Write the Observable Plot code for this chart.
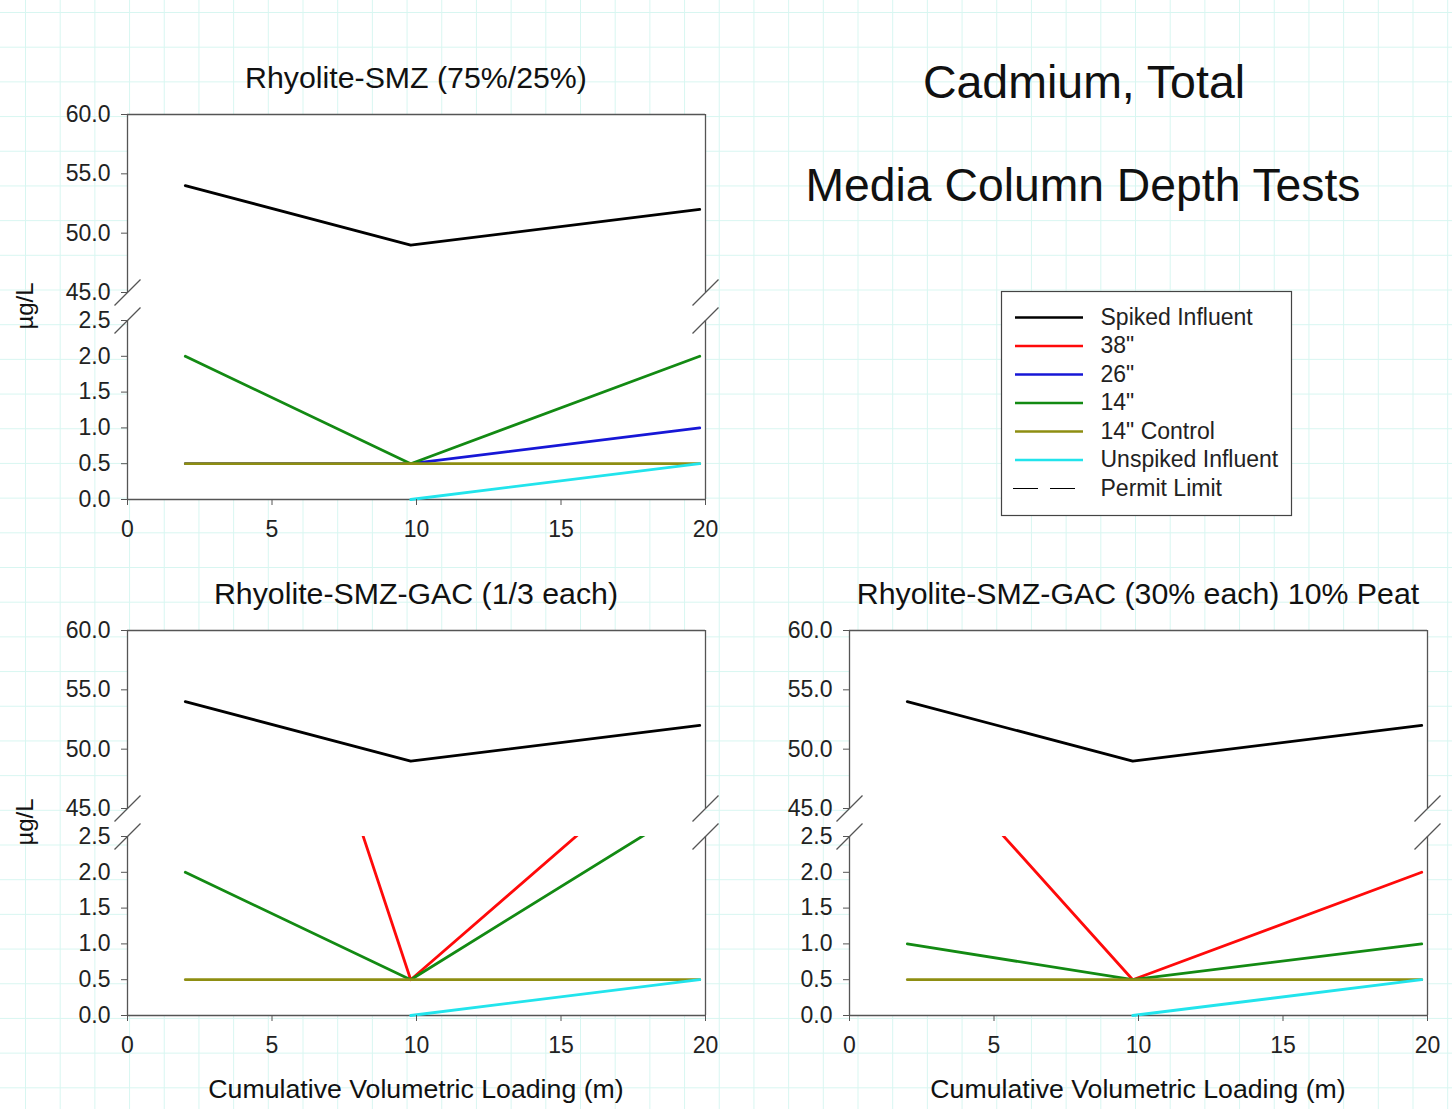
<!DOCTYPE html>
<html><head><meta charset="utf-8">
<script src="https://cdn.jsdelivr.net/npm/d3@7"></script>
<script src="https://cdn.jsdelivr.net/npm/@observablehq/plot@0.6"></script>
<style>
html,body{margin:0;padding:0;background:#fff;}
#chart{position:relative;width:1452px;height:1109px;overflow:hidden;font-family:"Liberation Sans",Arial,sans-serif;color:#111;
background-color:#fff;
background-image:linear-gradient(to right, #d8f6f1 1px, transparent 1px), linear-gradient(to bottom, #d8f6f1 1px, transparent 1px);
background-size:34.7px 34.7px;background-position:25px 12px;}
.abs{position:absolute;}
.t{position:absolute;white-space:nowrap;transform:translate(-50%,-50%);line-height:1.15;}
.rot{position:absolute;white-space:nowrap;transform:translate(-50%,-50%) rotate(-90deg);line-height:1.15;}
</style></head><body><div id="chart"></div>
<script>
// ---------- data ----------
const xLoad = [2, 9.8, 19.8];
const xTicks = [0, 5, 10, 15, 20];
const yTicksUpper = [45, 50, 55, 60];
const yTicksLower = [0, 0.5, 1.0, 1.5, 2.0, 2.5];
const seriesNames = ["Spiked Influent", "38\"", "26\"", "14\"", "14\" Control", "Unspiked Influent", "Permit Limit"];
const seriesColors = ["#000000", "#ff0a0a", "#1717d6", "#138a13", "#8e8e12", "#22e4ec", "#000000"];
const panelTitles = ["Rhyolite-SMZ (75%/25%)", "Rhyolite-SMZ-GAC (1/3 each)", "Rhyolite-SMZ-GAC (30% each) 10% Peat"];
const mainTitle = ["Cadmium, Total", "Media Column Depth Tests"];
const yLabel = "\u00b5g/L";
const xLabel = "Cumulative Volumetric Loading (m)";

// panel 1: Rhyolite-SMZ (75%/25%)
const p1Spiked = [54, 49, 52];
const p1In38 = null;
const p1In26 = [0.5, 0.5, 1.0];
const p1In14 = [2.0, 0.5, 2.0];
const p1Control = [0.5, 0.5, 0.5];
const p1Unspiked = [null, 0.0, 0.5];

// panel 2: Rhyolite-SMZ-GAC (1/3 each)
const p2Spiked = [54, 49, 52];
const p2In38 = [10.0, 0.5, 4.0];
const p2In26 = null;
const p2In14 = [2.0, 0.5, 3.0];
const p2Control = [0.5, 0.5, 0.5];
const p2Unspiked = [null, 0.0, 0.5];

// panel 3: Rhyolite-SMZ-GAC (30% each) 10% Peat
const p3Spiked = [54, 49, 52];
const p3In38 = [4.0, 0.5, 2.0];
const p3In26 = null;
const p3In14 = [1.0, 0.5, 1.0];
const p3Control = [0.5, 0.5, 0.5];
const p3Unspiked = [null, 0.0, 0.5];

// ---------- layout ----------
const AX = "#555";
const FONT = "'Liberation Sans', Arial, sans-serif";
const BREAK = 13;
const chart = document.getElementById("chart");

function seriesList(vals) {
  return vals.map((v, i) => ({name: seriesNames[i], color: seriesColors[i], values: v}));
}
const panels = [
  {title: panelTitles[0], L: 127, R: 705, T1: 114, B1: 292, T2: 320, B2: 499, ylab: true, xlab: false,
   series: seriesList([p1Spiked, p1In38, p1In26, p1In14, p1Control, p1Unspiked])},
  {title: panelTitles[1], L: 127, R: 705, T1: 630, B1: 808, T2: 836, B2: 1015, ylab: true, xlab: true,
   series: seriesList([p2Spiked, p2In38, p2In26, p2In14, p2Control, p2Unspiked])},
  {title: panelTitles[2], L: 849, R: 1427, T1: 630, B1: 808, T2: 836, B2: 1015, ylab: false, xlab: true,
   series: seriesList([p3Spiked, p3In38, p3In26, p3In14, p3Control, p3Unspiked])}
];

function addText(txt, x, y, size, cls = "t") {
  const d = document.createElement("div");
  d.className = cls;
  d.textContent = txt;
  d.style.left = x + "px";
  d.style.top = y + "px";
  d.style.fontSize = size + "px";
  chart.appendChild(d);
}

function segPlot(p, upper) {
  const dom = upper ? [45, 60] : [0, 2.5];
  const T = upper ? p.T1 : p.T2, B = upper ? p.B1 : p.B2;
  const mL = 80, mR = 24, mT = upper ? 12 : 18, mB = upper ? 18 : 50;
  const W = p.R - p.L, H = B - T;
  const sx = BREAK * 20 / W, sy = BREAK * (dom[1] - dom[0]) / H;
  const yEnd = upper ? dom[0] : dom[1];
  const brk = [0, 20].map(x => ({x1: x - sx, x2: x + sx, y1: yEnd - sy, y2: yEnd + sy}));
  const marks = [
    Plot.ruleX([0, 20], {stroke: AX, strokeWidth: 1.3}),
    Plot.ruleY([upper ? dom[1] : dom[0]], {stroke: AX, strokeWidth: 1.3}),
    Plot.link(brk, {x1: "x1", x2: "x2", y1: "y1", y2: "y2", stroke: AX, strokeWidth: 1.2})
  ];
  p.series.forEach(s => {
    if (!s.values) return;
    const rows = xLoad.map((x, i) => ({x, y: s.values[i]}));
    const vals = s.values.filter(v => v != null);
    if (vals.every(v => v < dom[0])) return;
    const needClip = vals.some(v => v < dom[0] || v > dom[1]);
    marks.push(Plot.line(rows, {x: "x", y: "y", stroke: s.color, strokeWidth: 2.8, clip: needClip}));
  });
  marks.push(Plot.axisY(upper ? yTicksUpper : yTicksLower, {
    tickFormat: d3.format(".1f"), tickSize: 6, tickPadding: 11, stroke: AX, fill: "#222", fontSize: 23, label: null
  }));
  if (!upper) marks.push(Plot.axisX(xTicks, {tickSize: 6, tickPadding: 15, stroke: AX, fill: "#222", fontSize: 23, label: null}));
  const svg = Plot.plot({
    width: W + mL + mR, height: H + mT + mB,
    marginLeft: mL, marginRight: mR, marginTop: mT, marginBottom: mB,
    x: {domain: [0, 20], label: null, ...(upper ? {axis: null} : {})},
    y: {domain: dom, label: null},
    style: {background: "transparent", overflow: "visible", fontFamily: FONT, fontSize: "23px", color: "#222"},
    marks
  });
  svg.style.position = "absolute";
  svg.style.left = (p.L - mL) + "px";
  svg.style.top = (T - mT) + "px";
  chart.appendChild(svg);
}

panels.forEach(p => {
  const bg = document.createElement("div");
  bg.className = "abs";
  Object.assign(bg.style, {left: p.L + "px", top: p.T1 + "px", width: (p.R - p.L) + "px", height: (p.B2 - p.T1) + "px", background: "#fff"});
  chart.appendChild(bg);
  segPlot(p, true);
  segPlot(p, false);
  const cx = (p.L + p.R) / 2;
  addText(p.title, cx, p.T1 - 36, 30.3);
  if (p.ylab) addText(yLabel, 25, (p.B1 + p.T2) / 2, 24, "rot");
  if (p.xlab) addText(xLabel, cx, p.B2 + 74, 26.7);
});

addText(mainTitle[0], 1084, 83, 46.5);
addText(mainTitle[1], 1083, 186, 46.3);

// ---------- legend ----------
const legendRows = seriesNames.map((name, i) => ({name, color: seriesColors[i], y: 26 + i * 28.5, dashed: name === "Permit Limit"}));
const legend = Plot.plot({
  width: 290, height: 224, margin: 0,
  x: {type: "identity", axis: null}, y: {type: "identity", axis: null},
  style: {background: "transparent", overflow: "visible", fontFamily: FONT, fontSize: "23px", color: "#222"},
  marks: [
    Plot.frame({fill: "white", stroke: "#444", strokeWidth: 1.2}),
    Plot.ruleY(legendRows.filter(d => !d.dashed), {y: "y", x1: 14, x2: 82, stroke: "color", strokeWidth: 2.7}),
    Plot.ruleY(legendRows.filter(d => d.dashed), {y: "y", x1: 12, x2: 74, stroke: "color", strokeWidth: 1, strokeDasharray: "25,12"}),
    Plot.text(legendRows, {x: 99, y: "y", text: "name", textAnchor: "start", fill: "#222", fontSize: 23})
  ]
});
legend.style.position = "absolute";
legend.style.left = "1001px";
legend.style.top = "291px";
chart.appendChild(legend);
</script></body></html>
